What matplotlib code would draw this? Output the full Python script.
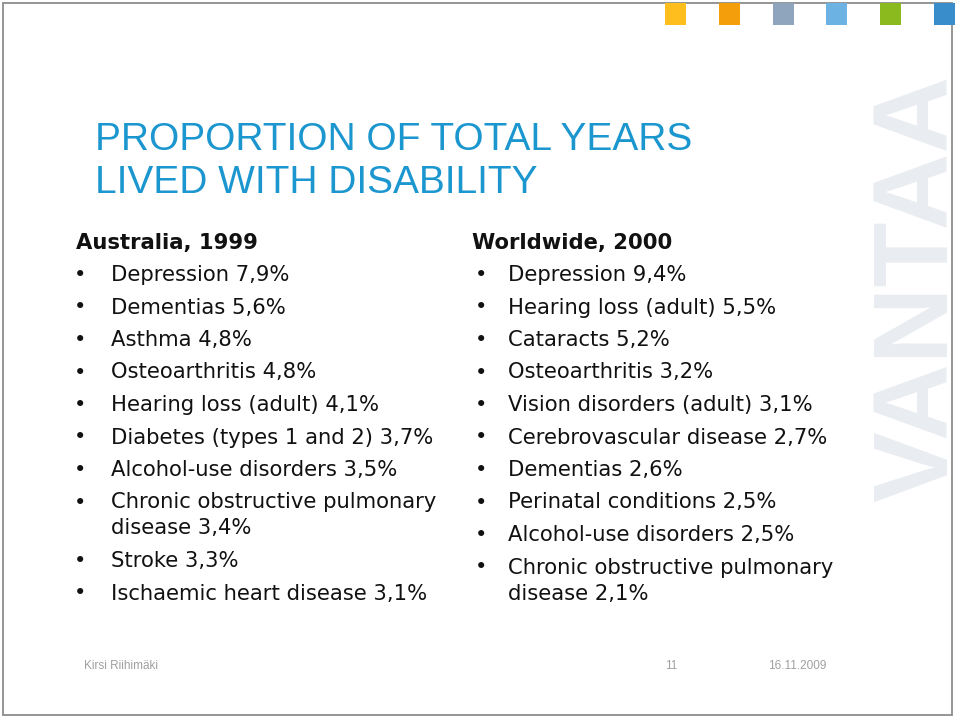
import matplotlib.pyplot as plt
from matplotlib.patches import Rectangle

# slide text
title_lines = ["PROPORTION OF TOTAL YEARS", "LIVED WITH DISABILITY"]

left_head = "Australia, 1999"
left_items = ["Depression 7,9%", "Dementias 5,6%", "Asthma 4,8%",
              "Osteoarthritis 4,8%", "Hearing loss (adult) 4,1%",
              "Diabetes (types 1 and 2) 3,7%", "Alcohol-use disorders 3,5%",
              "Chronic obstructive pulmonary\ndisease 3,4%", "Stroke 3,3%",
              "Ischaemic heart disease 3,1%"]

right_head = "Worldwide, 2000"
right_items = ["Depression 9,4%", "Hearing loss (adult) 5,5%", "Cataracts 5,2%",
               "Osteoarthritis 3,2%", "Vision disorders (adult) 3,1%",
               "Cerebrovascular disease 2,7%", "Dementias 2,6%",
               "Perinatal conditions 2,5%", "Alcohol-use disorders 2,5%",
               "Chronic obstructive pulmonary\ndisease 2,1%"]

footer_author = "Kirsi Riihimäki"
footer_page = "11"
footer_date = "16.11.2009"

square_colors = ["#FDBE1E", "#F59E0B", "#8FA5BE", "#6CB2E2", "#8BBA1E", "#3A8DCB"]

W, H = 960, 718
fig = plt.figure(figsize=(W / 100, H / 100), dpi=100)
ax = fig.add_axes([0, 0, 1, 1])
ax.set_xlim(0, W)
ax.set_ylim(H, 0)
ax.axis("off")

# watermark, reads bottom to top along the right edge
ax.text(947, 502, "VANTAA", rotation=90, rotation_mode="anchor", ha="left",
        va="baseline", fontsize=76.5, fontweight="bold", color="#E9ECF1",
        family="Liberation Sans")

# frame
ax.add_patch(Rectangle((3, 3), 949, 712, fill=False, edgecolor="#8C8C8C", lw=1.3))

# colour squares at top
for i, c in enumerate(square_colors):
    ax.add_patch(Rectangle((665 + i * 53.8, 3), 21, 22, facecolor=c, edgecolor="none"))

# title
for i, line in enumerate(title_lines):
    ax.text(95, 150 + i * 43, line, fontsize=28, color="#1B96CF",
            family="Liberation Sans", va="baseline", ha="left")

body = dict(family="DejaVu Sans", fontsize=15.2, color="#111111", va="baseline")


def draw_column(x_head, x_bullet, x_text, head, items):
    ax.text(x_head, 249, head, fontweight="bold", ha="left", **body)
    y = 281
    for item in items:
        ax.text(x_bullet, y, "•", ha="center", **body)
        lines = item.split("\n")
        for j, ln in enumerate(lines):
            ax.text(x_text, y + j * 26, ln, ha="left", **body)
        y += 32.5 + (len(lines) - 1) * 26


draw_column(76, 80, 111, left_head, left_items)
draw_column(472, 481, 508, right_head, right_items)

# footer
foot = dict(family="Liberation Sans", fontsize=8.5, color="#A0A0A0", va="baseline")
ax.text(84, 669, footer_author, ha="left", **foot)
ax.text(665, 669, footer_page, ha="left", **foot)
ax.text(768, 669, footer_date, ha="left", **foot)

fig.savefig("out.png", dpi=100)
